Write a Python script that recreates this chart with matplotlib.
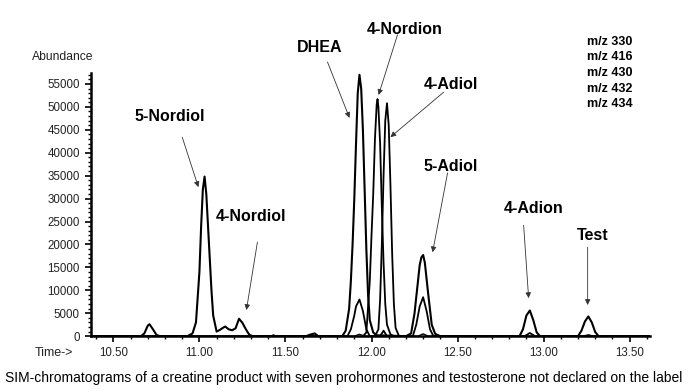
import matplotlib
matplotlib.use("Agg")
import matplotlib.pyplot as plt
from matplotlib.ticker import MultipleLocator, FormatStrFormatter

plt.rcParams['font.family'] = ['Liberation Sans', 'DejaVu Sans']

# traces (time in min, abundance)
main_t = [10.37, 10.66, 10.68, 10.70, 10.71, 10.73, 10.75, 10.77,
          10.93, 10.96, 10.98, 11.00, 11.01, 11.02, 11.03, 11.04, 11.05, 11.06, 11.07, 11.08, 11.10,
          11.12, 11.14, 11.15, 11.17, 11.19, 11.21, 11.23, 11.25, 11.27, 11.29, 11.31,
          11.42, 11.43, 11.44, 11.62, 11.64, 11.67, 11.69,
          11.83, 11.85, 11.87, 11.88, 11.89, 11.90, 11.91, 11.92, 11.93, 11.94, 11.95, 11.96, 11.97, 11.98, 11.99, 12.01, 12.03,
          12.20, 12.23, 12.25, 12.27, 12.28, 12.29, 12.30, 12.31, 12.32, 12.33, 12.35, 12.37, 12.40,
          12.86, 12.88, 12.90, 12.92, 12.94, 12.96, 12.98,
          13.20, 13.22, 13.24, 13.26, 13.28, 13.30, 13.32, 13.62]
main_y = [0, 0, 600, 2300, 2600, 1500, 300, 0,
          0, 600, 3000, 14000, 24000, 32000, 34800, 31000, 24000, 17000, 10000, 4500, 1000,
          1400, 1900, 2100, 1500, 1300, 1700, 3800, 2900, 1500, 300, 0,
          0, 200, 0, 0, 300, 600, 0,
          0, 1200, 6000, 12000, 20000, 30000, 42000, 53000, 57000, 54000, 45000, 32000, 19000, 9000, 3500, 800, 200,
          0, 600, 5000, 12000, 15500, 17200, 17700, 16000, 12500, 9000, 2500, 500, 0,
          0, 1500, 4500, 5600, 3500, 800, 0,
          0, 1200, 3200, 4300, 3000, 900, 0, 0]

nordion_t = [11.95, 11.97, 11.99, 12.00, 12.01, 12.02, 12.03, 12.035, 12.04, 12.05, 12.06,
             12.07, 12.08, 12.09, 12.11, 12.13]
nordion_y = [0, 800, 12000, 22000, 31000, 43000, 50500, 51700, 50000, 42000, 28000,
             16000, 7000, 2500, 400, 0]

adiol_t = [12.02, 12.04, 12.05, 12.06, 12.07, 12.08, 12.09, 12.10, 12.11, 12.12, 12.13, 12.14, 12.16]
adiol_y = [0, 1500, 8000, 20000, 35000, 47000, 50800, 46000, 33000, 18000, 7000, 1800, 0]

minor_t = [10.37, 11.86, 11.88, 11.90, 11.91, 11.93, 11.95, 11.97, 11.99,
           12.05, 12.07, 12.09, 12.24, 12.26, 12.28, 12.30, 12.32, 12.34, 12.36,
           12.89, 12.92, 12.95, 13.62]
minor_y = [0, 0, 1500, 4500, 6500, 8000, 5500, 1500, 0,
           0, 1200, 0, 0, 2500, 6500, 8500, 5500, 1500, 0,
           0, 700, 0, 0]

trace5_t = [10.37, 11.90, 11.93, 11.96, 12.27, 12.30, 12.33, 13.23, 13.26, 13.29, 13.62]
trace5_y = [0, 0, 400, 0, 0, 500, 0, 0, 300, 0, 0]

ion_labels = ['m/z 330', 'm/z 416', 'm/z 430', 'm/z 432', 'm/z 434']

# compound name, text position, arrow tail, arrow head (data coords)
peak_notes = [
    ('5-Nordiol', (10.826, 47800), (10.90, 43400), (10.994, 32500)),
    ('4-Nordiol', (11.30, 26200), (11.337, 20500), (11.273, 5700)),
    ('DHEA', (11.70, 63000), (11.744, 59800), (11.872, 47600)),
    ('4-Nordion', (12.19, 66800), (12.151, 65700), (12.041, 52600)),
    ('4-Adiol', (12.459, 54800), (12.419, 53200), (12.11, 43400)),
    ('5-Adiol', (12.459, 37100), (12.442, 35600), (12.355, 18300)),
    ('4-Adion', (12.942, 27900), (12.884, 24200), (12.913, 8300)),
    ('Test', (13.285, 22000), (13.256, 19400), (13.256, 6800)),
]

fig = plt.figure(figsize=(7, 3.9), dpi=100)
ax = fig.add_axes([0.13, 0.138, 0.799, 0.675])

ax.plot(trace5_t, trace5_y, color='black', lw=1.0)
ax.plot(minor_t, minor_y, color='black', lw=1.3)
ax.plot(adiol_t, adiol_y, color='black', lw=1.3)
ax.plot(nordion_t, nordion_y, color='black', lw=1.3)
ax.plot(main_t, main_y, color='black', lw=1.5)

ax.set_xlim(10.37, 13.62)
ax.set_ylim(0, 57400)

for s in ['top', 'right']:
    ax.spines[s].set_visible(False)
for s in ['left', 'bottom']:
    ax.spines[s].set_linewidth(1.8)

ax.xaxis.set_major_locator(MultipleLocator(0.5))
ax.xaxis.set_minor_locator(MultipleLocator(0.1))
ax.xaxis.set_major_formatter(FormatStrFormatter('%.2f'))
ax.yaxis.set_major_locator(MultipleLocator(5000))
ax.yaxis.set_minor_locator(MultipleLocator(1000))
ax.tick_params(axis='both', which='major', labelsize=8.3, labelcolor='#222', width=1.2, length=4, pad=4)
ax.tick_params(axis='both', which='minor', width=1.0, length=2.5)

for name, txt, tail, head in peak_notes:
    ax.text(txt[0], txt[1], name, fontsize=11.5, fontweight='bold',
            ha='center', va='center', clip_on=False)
    ax.annotate('', xy=head, xytext=tail, annotation_clip=False,
                arrowprops=dict(arrowstyle='-|>', lw=0.6, color='#333',
                                mutation_scale=8, shrinkA=0, shrinkB=0))

for i, lab in enumerate(ion_labels):
    fig.text(587 / 700, 1 - (42 + i * 15.5) / 390, lab, fontsize=9, fontweight='bold',
             ha='left', va='center')

fig.text(32 / 700, 1 - 57 / 390, 'Abundance', fontsize=8.7, color='#222', ha='left', va='center')
fig.text(35 / 700, 1 - 353 / 390, 'Time->', fontsize=9, color='#222', ha='left', va='center')
fig.text(5 / 700, 1 - 378 / 390,
         'SIM-chromatograms of a creatine product with seven prohormones and testosterone not declared on the label',
         fontsize=10, ha='left', va='center')

fig.savefig('out.png', dpi=100)
